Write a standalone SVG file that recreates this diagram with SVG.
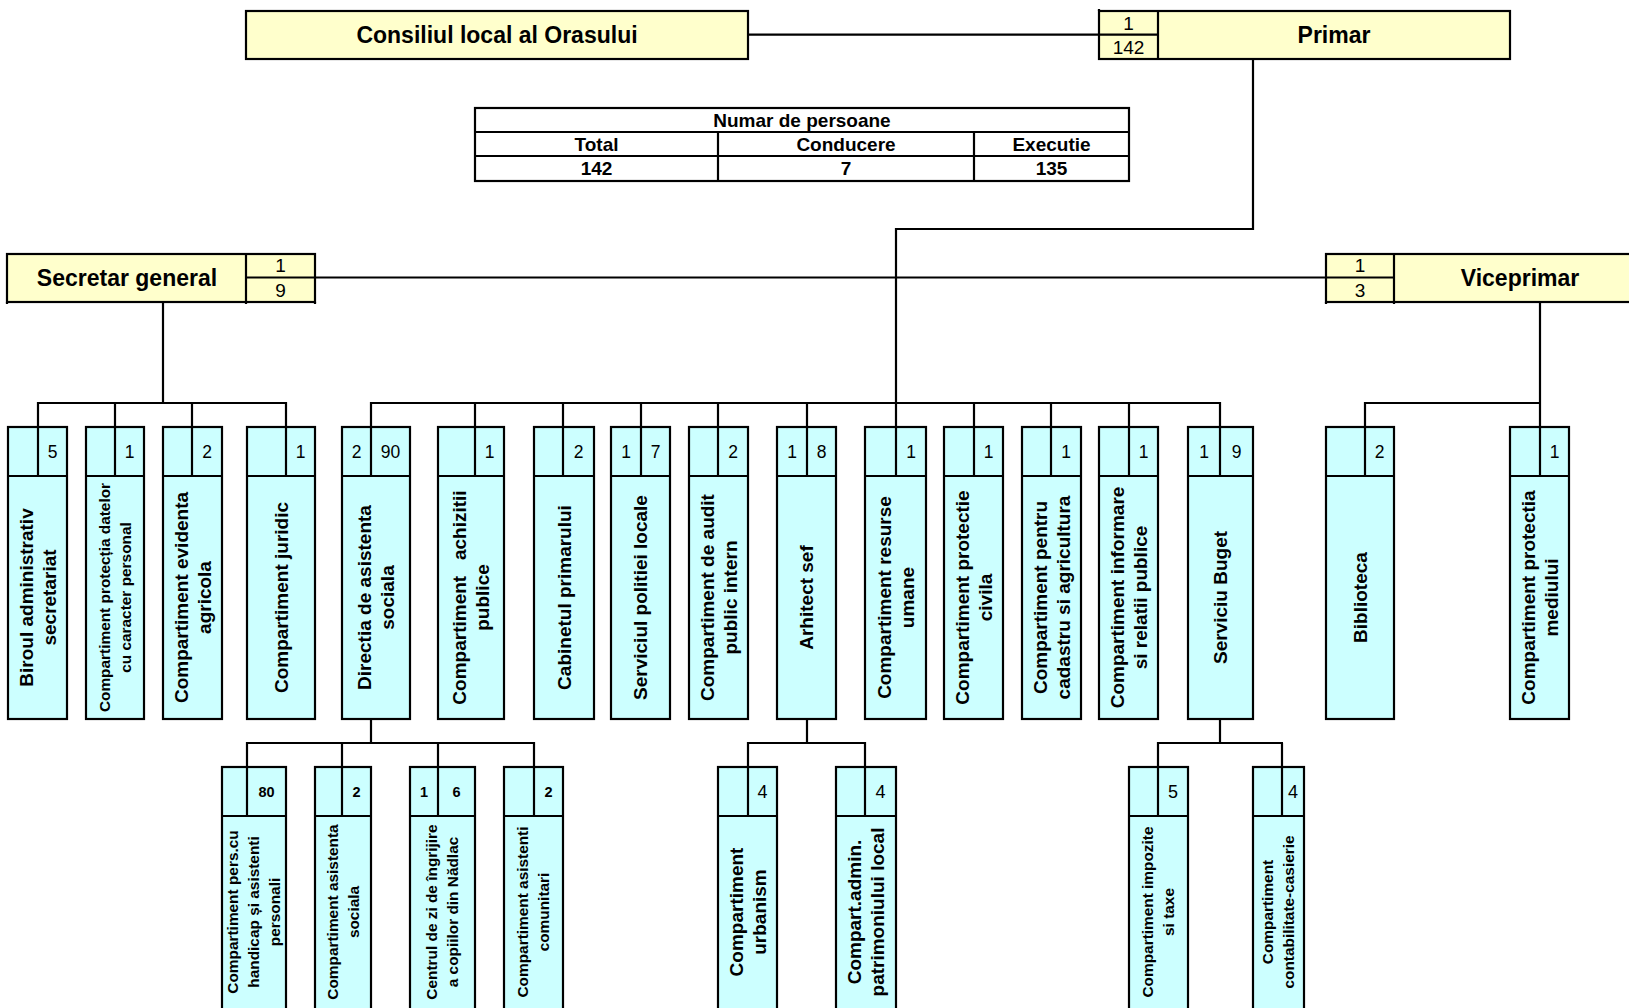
<svg xmlns="http://www.w3.org/2000/svg" width="1629" height="1008" viewBox="0 0 1629 1008">
<style>
.y{fill:#FFFFCC;stroke:#000;stroke-width:2.2}
.c{fill:#CCFFFF;stroke:#000;stroke-width:2.2}
.t{fill:#FFFFFF;stroke:#000;stroke-width:2.2}
.l{stroke:#000;stroke-width:2.2;fill:none}
text{font-family:"Liberation Sans",Arial,sans-serif;fill:#000;text-anchor:middle}
.h{font-weight:bold;font-size:23px}
.n{font-size:19px}
.tb{font-weight:bold;font-size:19px}
.m{font-size:17.5px}
.mb{font-size:14.5px;font-weight:bold}
.m18{font-size:18px}
.L{font-weight:bold;font-size:19px}
.S{font-weight:bold;font-size:15.4px}
</style>
<rect width="1629" height="1008" fill="#FFFFFF"/>

<g id="connectors">
<path class="l" d="M748 34.7H1099"/>
<path class="l" d="M1253 59V229H896V427"/>
<path class="l" d="M315 277.5H1326"/>
<path class="l" d="M163 302V403"/>
<path class="l" d="M38 427V403H286V427M115 403V427M192 403V427"/>
<path class="l" d="M371 427V403H1220V427M475 403V427M563 403V427M641 403V427M718 403V427M807 403V427M974 403V427M1051 403V427M1129 403V427"/>
<path class="l" d="M1540 302V427M1365 427V403H1540"/>
<path class="l" d="M371 719V743M247 767V743H534V767M342 743V767M438 743V767"/>
<path class="l" d="M807 719V743M748 767V743H865V767"/>
<path class="l" d="M1220 719V743M1158 767V743H1283M1282 743V767"/>
</g>

<g id="consiliul">
<rect class="y" x="246" y="11" width="502" height="48"/>
<text class="h" x="497" y="43.3">Consiliul local al Orasului</text>
</g>

<g id="primar">
<rect class="y" x="1099" y="11" width="411" height="48"/>
<path class="l" d="M1158 11V59M1099 34.7H1158M1099 9V11"/>
<text class="h" x="1334" y="43.3">Primar</text>
<text class="n" x="1128.5" y="29.6">1</text>
<text class="n" x="1128.5" y="53.7">142</text>
</g>

<g id="tabel">
<rect class="t" x="475" y="108" width="654" height="73"/>
<path class="l" d="M475 132H1129M475 156H1129M718 132V181M974 132V181"/>
<text class="tb" x="802" y="126.5">Numar de persoane</text>
<text class="tb" x="596.5" y="150.5">Total</text>
<text class="tb" x="846" y="150.5">Conducere</text>
<text class="tb" x="1051.5" y="150.5">Executie</text>
<text class="tb" x="596.5" y="175">142</text>
<text class="tb" x="846" y="175">7</text>
<text class="tb" x="1051.5" y="175">135</text>
</g>

<g id="secretar">
<rect class="y" x="7" y="254" width="308" height="48"/>
<path class="l" d="M246 254V304M246 277.5H315M7 302V304M315 302V304"/>
<text class="h" x="127" y="286">Secretar general</text>
<text class="n" x="280.5" y="272.4">1</text>
<text class="n" x="280.5" y="296.5">9</text>
</g>

<g id="viceprimar">
<rect class="y" x="1326" y="254" width="330" height="48"/>
<path class="l" d="M1394 254V304M1326 277.5H1394M1326 302V304"/>
<text class="h" x="1520" y="286">Viceprimar</text>
<text class="n" x="1360" y="272.4">1</text>
<text class="n" x="1360" y="296.5">3</text>
</g>

<g id="biroul">
<rect class="c" x="8" y="427" width="59" height="292"/>
<path class="l" d="M8 476H67M38 427V476"/>
<text class="m" x="52.5" y="457.6">5</text>
<text class="L" transform="translate(37.5 597.5) rotate(-90)"><tspan x="0" y="-4.8">Biroul administrativ</tspan><tspan x="0" y="18.2">secretariat</tspan></text>
</g>

<g id="protectia-datelor">
<rect class="c" x="86" y="427" width="58" height="292"/>
<path class="l" d="M86 476H144M115 427V476"/>
<text class="m" x="129.5" y="457.6">1</text>
<text class="S" transform="translate(115 597.5) rotate(-90)"><tspan x="0" y="-5.1">Compartiment protecția datelor</tspan><tspan x="0" y="15.9">cu caracter personal</tspan></text>
</g>

<g id="evidenta-agricola">
<rect class="c" x="163" y="427" width="59" height="292"/>
<path class="l" d="M163 476H222M192 427V476"/>
<text class="m" x="207" y="457.6">2</text>
<text class="L" transform="translate(192.5 597.5) rotate(-90)"><tspan x="0" y="-4.8">Compartiment evidenta</tspan><tspan x="0" y="18.2">agricola</tspan></text>
</g>

<g id="juridic">
<rect class="c" x="247" y="427" width="68" height="292"/>
<path class="l" d="M247 476H315M286 427V476"/>
<text class="m" x="300.5" y="457.6">1</text>
<text class="L" transform="translate(281 597.5) rotate(-90)"><tspan x="0" y="6.7">Compartiment juridic</tspan></text>
</g>

<g id="directia-asistenta">
<rect class="c" x="342" y="427" width="68" height="292"/>
<path class="l" d="M342 476H410M371 427V476"/>
<text class="m" x="356.5" y="457.6">2</text>
<text class="m" x="390.5" y="457.6">90</text>
<text class="L" transform="translate(376 597.5) rotate(-90)"><tspan x="0" y="-4.8">Directia de asistenta</tspan><tspan x="0" y="18.2">sociala</tspan></text>
</g>

<g id="achizitii">
<rect class="c" x="438" y="427" width="66" height="292"/>
<path class="l" d="M438 476H504M475 427V476"/>
<text class="m" x="489.5" y="457.6">1</text>
<text class="L" xml:space="preserve" transform="translate(471 597.5) rotate(-90)"><tspan x="0" y="-4.8">Compartiment   achizitii</tspan><tspan x="0" y="18.2">publice</tspan></text>
</g>

<g id="cabinet">
<rect class="c" x="534" y="427" width="60" height="292"/>
<path class="l" d="M534 476H594M563 427V476"/>
<text class="m" x="578.5" y="457.6">2</text>
<text class="L" transform="translate(564 597.5) rotate(-90)"><tspan x="0" y="6.7">Cabinetul primarului</tspan></text>
</g>

<g id="politia-locala">
<rect class="c" x="611" y="427" width="59" height="292"/>
<path class="l" d="M611 476H670M641 427V476"/>
<text class="m" x="626" y="457.6">1</text>
<text class="m" x="655.5" y="457.6">7</text>
<text class="L" transform="translate(640.5 597.5) rotate(-90)"><tspan x="0" y="6.7">Serviciul politiei locale</tspan></text>
</g>

<g id="audit">
<rect class="c" x="689" y="427" width="59" height="292"/>
<path class="l" d="M689 476H748M718 427V476"/>
<text class="m" x="733" y="457.6">2</text>
<text class="L" transform="translate(718.5 597.5) rotate(-90)"><tspan x="0" y="-4.8">Compartiment de audit</tspan><tspan x="0" y="18.2">public intern</tspan></text>
</g>

<g id="arhitect-sef">
<rect class="c" x="777" y="427" width="59" height="292"/>
<path class="l" d="M777 476H836M807 427V476"/>
<text class="m" x="792" y="457.6">1</text>
<text class="m" x="821.5" y="457.6">8</text>
<text class="L" transform="translate(806.5 597.5) rotate(-90)"><tspan x="0" y="6.7">Arhitect sef</tspan></text>
</g>

<g id="resurse-umane">
<rect class="c" x="865" y="427" width="61" height="292"/>
<path class="l" d="M865 476H926M896 427V476"/>
<text class="m" x="911" y="457.6">1</text>
<text class="L" transform="translate(895.5 597.5) rotate(-90)"><tspan x="0" y="-4.8">Compartiment resurse</tspan><tspan x="0" y="18.2">umane</tspan></text>
</g>

<g id="protectie-civila">
<rect class="c" x="944" y="427" width="59" height="292"/>
<path class="l" d="M944 476H1003M974 427V476"/>
<text class="m" x="988.5" y="457.6">1</text>
<text class="L" transform="translate(973.5 597.5) rotate(-90)"><tspan x="0" y="-4.8">Compartiment protectie</tspan><tspan x="0" y="18.2">civila</tspan></text>
</g>

<g id="cadastru">
<rect class="c" x="1022" y="427" width="59" height="292"/>
<path class="l" d="M1022 476H1081M1051 427V476"/>
<text class="m" x="1066" y="457.6">1</text>
<text class="L" transform="translate(1051.5 597.5) rotate(-90)"><tspan x="0" y="-4.8">Compartiment pentru</tspan><tspan x="0" y="18.2">cadastru si agricultura</tspan></text>
</g>

<g id="informare">
<rect class="c" x="1099" y="427" width="59" height="292"/>
<path class="l" d="M1099 476H1158M1129 427V476"/>
<text class="m" x="1143.5" y="457.6">1</text>
<text class="L" transform="translate(1128.5 597.5) rotate(-90)"><tspan x="0" y="-4.8">Compartiment informare</tspan><tspan x="0" y="18.2">si relatii publice</tspan></text>
</g>

<g id="buget">
<rect class="c" x="1188" y="427" width="65" height="292"/>
<path class="l" d="M1188 476H1253M1220 427V476"/>
<text class="m" x="1204" y="457.6">1</text>
<text class="m" x="1236.5" y="457.6">9</text>
<text class="L" transform="translate(1220.5 597.5) rotate(-90)"><tspan x="0" y="6.7">Serviciu Buget</tspan></text>
</g>

<g id="biblioteca">
<rect class="c" x="1326" y="427" width="68" height="292"/>
<path class="l" d="M1326 476H1394M1365 427V476"/>
<text class="m" x="1379.5" y="457.6">2</text>
<text class="L" transform="translate(1360 597.5) rotate(-90)"><tspan x="0" y="6.7">Biblioteca</tspan></text>
</g>

<g id="protectia-mediului">
<rect class="c" x="1510" y="427" width="59" height="292"/>
<path class="l" d="M1510 476H1569M1540 427V476"/>
<text class="m" x="1554.5" y="457.6">1</text>
<text class="L" transform="translate(1539.5 597.5) rotate(-90)"><tspan x="0" y="-4.8">Compartiment protectia</tspan><tspan x="0" y="18.2">mediului</tspan></text>
</g>

<g id="handicap">
<rect class="c" x="222" y="767" width="64" height="250"/>
<path class="l" d="M222 816H286M247 767V816"/>
<text class="mb" x="266.5" y="796.5">80</text>
<text class="S" transform="translate(254 912) rotate(-90)"><tspan x="0" y="-15.6">Compartiment pers.cu</tspan><tspan x="0" y="5.4">handicap și asistenti</tspan><tspan x="0" y="26.4">personali</tspan></text>
</g>

<g id="asistenta-sociala">
<rect class="c" x="315" y="767" width="56" height="250"/>
<path class="l" d="M315 816H371M342 767V816"/>
<text class="mb" x="356.5" y="796.5">2</text>
<text class="S" transform="translate(343 912) rotate(-90)"><tspan x="0" y="-5.1">Compartiment asistenta</tspan><tspan x="0" y="15.9">sociala</tspan></text>
</g>

<g id="centrul-de-zi">
<rect class="c" x="410" y="767" width="65" height="250"/>
<path class="l" d="M410 816H475M438 767V816"/>
<text class="mb" x="424" y="796.5">1</text>
<text class="mb" x="456.5" y="796.5">6</text>
<text class="S" transform="translate(442.5 912) rotate(-90)"><tspan x="0" y="-5.1">Centrul de zi de îngrijire</tspan><tspan x="0" y="15.9">a copiilor din Nădlac</tspan></text>
</g>

<g id="asistenti-comunitari">
<rect class="c" x="504" y="767" width="59" height="250"/>
<path class="l" d="M504 816H563M534 767V816"/>
<text class="mb" x="548.5" y="796.5">2</text>
<text class="S" transform="translate(533.5 912) rotate(-90)"><tspan x="0" y="-5.1">Compartiment asistenti</tspan><tspan x="0" y="15.9">comunitari</tspan></text>
</g>

<g id="urbanism">
<rect class="c" x="718" y="767" width="59" height="250"/>
<path class="l" d="M718 816H777M748 767V816"/>
<text class="m18" x="762.5" y="797.7">4</text>
<text class="L" transform="translate(747.5 912) rotate(-90)"><tspan x="0" y="-4.8">Compartiment</tspan><tspan x="0" y="18.2">urbanism</tspan></text>
</g>

<g id="patrimoniu">
<rect class="c" x="836" y="767" width="60" height="250"/>
<path class="l" d="M836 816H896M865 767V816"/>
<text class="m18" x="880.5" y="797.7">4</text>
<text class="L" transform="translate(866 912) rotate(-90)"><tspan x="0" y="-4.8">Compart.admin.</tspan><tspan x="0" y="18.2">patrimoniului local</tspan></text>
</g>

<g id="impozite">
<rect class="c" x="1129" y="767" width="59" height="250"/>
<path class="l" d="M1129 816H1188M1158 767V816"/>
<text class="m18" x="1173" y="797.7">5</text>
<text class="S" transform="translate(1158.5 912) rotate(-90)"><tspan x="0" y="-5.1">Compartiment impozite</tspan><tspan x="0" y="15.9">si taxe</tspan></text>
</g>

<g id="contabilitate">
<rect class="c" x="1253" y="767" width="51" height="250"/>
<path class="l" d="M1253 816H1304M1282 767V816"/>
<text class="m18" x="1293" y="797.7">4</text>
<text class="S" transform="translate(1278.5 912) rotate(-90)"><tspan x="0" y="-5.1">Compartiment</tspan><tspan x="0" y="15.9">contabilitate-casierie</tspan></text>
</g>
</svg>
